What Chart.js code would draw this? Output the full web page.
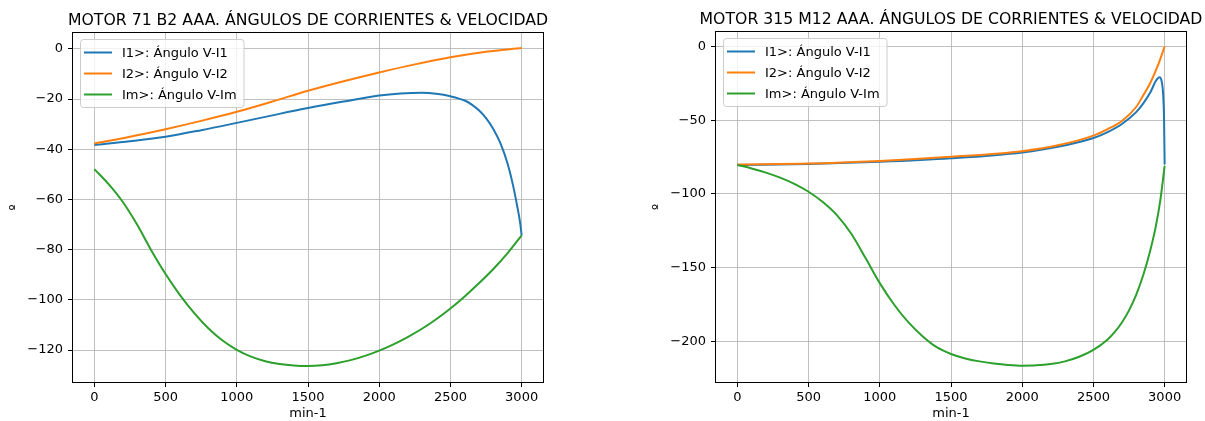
<!DOCTYPE html>
<html>
<head>
<meta charset="utf-8">
<script src="https://cdn.jsdelivr.net/npm/chart.js@4"></script>
<style>
  html, body { margin: 0; padding: 0; background: #fff; }
  #wrap { position: relative; width: 1205px; height: 421px; }
  .panel { position: absolute; top: 0; height: 421px; }
</style>
</head>
<body>
<div id="wrap">
  <div class="panel" style="left:0;width:600px"><canvas id="motor71" width="600" height="421"></canvas></div>
  <div class="panel" style="left:600px;width:605px"><canvas id="motor315" width="605" height="421"></canvas></div>
</div>
<script>
// labels
const seriesNames = ['I1>: Ángulo V-I1', 'I2>: Ángulo V-I2', 'Im>: Ángulo V-Im'];
const seriesColors = ['#1f77b4', '#ff7f0e', '#2ca02c'];
const speedTicks = [0, 500, 1000, 1500, 2000, 2500, 3000];
const m71AngleTicks = [0, -20, -40, -60, -80, -100, -120];
const m315AngleTicks = [0, -50, -100, -150, -200];

// MOTOR 71 B2 AAA
const m71I1Speed = [0, 250, 500, 750, 1000, 1250, 1500, 1750, 2000, 2150, 2300, 2400, 2500, 2600, 2650, 2700, 2750, 2800, 2850, 2900, 2940, 2970, 2990, 3000];
const m71I1Angle = [-38.3, -36.8, -35, -32.4, -29.5, -26.5, -23.6, -21, -18.6, -17.8, -17.5, -17.9, -18.9, -20.6, -22.2, -24.5, -27.6, -31.8, -37.5, -45.5, -54.5, -63, -69.5, -74.3];
const m71I2Speed = [0, 250, 500, 750, 1000, 1250, 1500, 1750, 2000, 2250, 2500, 2750, 3000];
const m71I2Angle = [-37.7, -35, -32, -28.7, -25.1, -21, -16.7, -12.9, -9.4, -6.2, -3.4, -1.2, 0.3];
const m71ImSpeed = [0, 100, 200, 300, 400, 500, 600, 700, 800, 900, 1000, 1100, 1200, 1300, 1400, 1500,
  1600, 1700, 1800, 1900, 2000, 2100, 2200, 2300, 2400, 2500, 2600, 2700, 2800, 2900, 3000];
const m71ImAngle = [-47.9, -53.9, -61, -70, -80.3, -89.7, -98, -105.2, -111.3, -116.2, -119.9, -122.6, -124.4, -125.5, -126.1, -126.3,
  -126, -125.2, -124, -122.3, -120.2, -117.7, -114.8, -111.5, -107.7, -103.4, -98.6, -93.4, -87.8, -81.5, -74.3];

// MOTOR 315 M12 AAA
const m315I1Speed = [0, 500, 1000, 1500, 2000, 2250, 2500, 2600, 2700, 2800, 2850, 2900, 2940, 2965, 2980, 2990, 2996, 3000];
const m315I1Angle = [-80.3, -79.7, -78.2, -75.8, -71.8, -68, -62, -58, -52.5, -44.5, -38.5, -31, -23, -20.8, -24, -33, -50, -80];
const m315I2Speed = [0, 500, 1000, 1500, 2000, 2250, 2500, 2600, 2700, 2800, 2850, 2900, 2950, 3000];
const m315I2Angle = [-80, -79.4, -77.6, -74.8, -71, -67, -60.4, -56, -50.5, -41, -33, -24.5, -13.5, 0];
const m315ImSpeed = [0, 100, 200, 300, 400, 500, 600, 700, 800, 900, 1000, 1100, 1200, 1300, 1400, 1500,
  1600, 1700, 1800, 1900, 2000, 2100, 2200, 2300, 2400, 2500, 2600, 2650, 2700, 2750, 2800, 2850, 2900, 2940, 2970, 3000];
const m315ImAngle = [-80.3, -82.7, -85.5, -88.9, -93.1, -98.5, -105.5, -114.5, -127, -143.5, -160.5, -175, -187, -196.5, -204, -208.6,
  -211.6, -213.6, -215, -216, -216.5, -216.3, -215.4, -213.6, -210.5, -205.8, -198.7, -193.6, -187.2, -179, -168.5, -155, -138, -121, -104, -81];

Chart.defaults.font.family = '"DejaVu Sans", sans-serif';
Chart.defaults.font.size = 13;
Chart.defaults.color = '#000';

const toPoints = (xs, ys) => xs.map((x, i) => ({ x: x, y: ys[i] }));
const minusSign = v => (v < 0 ? '\u2212' + Math.abs(v) : String(v));

// frame, title and legend drawn like matplotlib
const mplDecor = {
    id: 'mplDecor',
    afterDraw(chart, args, opts) {
        const { ctx, chartArea: a } = chart;
        ctx.save();
        ctx.strokeStyle = '#000';
        ctx.lineWidth = 1;
        ctx.strokeRect(Math.round(a.left) - 0.5, Math.round(a.top) - 0.5, Math.round(a.right - a.left) + 1, Math.round(a.bottom - a.top) + 1);

        ctx.fillStyle = '#000';
        ctx.font = '15.7px "DejaVu Sans"';
        ctx.textAlign = 'center';
        ctx.textBaseline = 'alphabetic';
        ctx.fillText(opts.title, (a.left + a.right) / 2, a.top - 8);

        ctx.font = '13px "DejaVu Sans"';
        const textW = Math.max(...seriesNames.map(t => ctx.measureText(t).width));
        const bx = Math.round(a.left) + 7, by = Math.round(a.top) + 6;
        const bw = 41 + textW + 8, bh = 68;
        ctx.beginPath();
        ctx.roundRect(bx + 0.5, by + 0.5, bw, bh, 3);
        ctx.fillStyle = 'rgba(255,255,255,0.8)';
        ctx.fill();
        ctx.strokeStyle = '#cccccc';
        ctx.stroke();
        seriesNames.forEach((t, i) => {
            const y = by + 13.5 + i * 21;
            ctx.strokeStyle = seriesColors[i];
            ctx.lineWidth = 2;
            ctx.beginPath();
            ctx.moveTo(bx + 4, y);
            ctx.lineTo(bx + 32, y);
            ctx.stroke();
            ctx.fillStyle = '#000';
            ctx.textAlign = 'left';
            ctx.textBaseline = 'middle';
            ctx.fillText(t, bx + 42, y + 1);
        });
        ctx.restore();
    }
};

function buildChart(canvasId, cfg) {
    const ctx = document.getElementById(canvasId).getContext('2d');
    return new Chart(ctx, {
        type: 'line',
        data: {
            datasets: cfg.series.map((s, i) => ({
                label: seriesNames[i],
                data: toPoints(s[0], s[1]),
                borderColor: seriesColors[i],
                backgroundColor: seriesColors[i],
                borderWidth: 2,
                pointRadius: 0,
                cubicInterpolationMode: 'monotone',
                order: 3 - i // green on top, like matplotlib
            }))
        },
        plugins: [mplDecor],
        options: {
            responsive: false,
            devicePixelRatio: 1,
            animation: false,
            layout: { padding: cfg.padding },
            scales: {
                x: {
                    type: 'linear',
                    min: -150,
                    max: 3150,
                    afterBuildTicks: ax => { ax.ticks = speedTicks.map(v => ({ value: v })); },
                    afterFit: ax => { ax.height = 39; },
                    grid: { color: '#b0b0b0', lineWidth: 0.8, tickLength: 5, tickColor: '#000', tickWidth: 1 },
                    border: { display: false },
                    ticks: { padding: 3, maxRotation: 0, autoSkip: false, callback: v => String(v) },
                    title: { display: true, text: 'min-1', padding: { top: 0, bottom: 0 } }
                },
                y: {
                    type: 'linear',
                    min: cfg.yMin,
                    max: cfg.yMax,
                    afterBuildTicks: ax => { ax.ticks = cfg.yTicks.map(v => ({ value: v })); },
                    afterFit: ax => { ax.width = 73; },
                    grid: { color: '#b0b0b0', lineWidth: 0.8, tickLength: 5, tickColor: '#000', tickWidth: 1 },
                    border: { display: false },
                    ticks: { padding: 5, autoSkip: false, callback: minusSign },
                    title: { display: true, text: 'º', padding: { top: 7, bottom: 0 } }
                }
            },
            plugins: {
                legend: { display: false },
                tooltip: { enabled: false },
                mplDecor: { title: cfg.title }
            }
        }
    });
}

buildChart('motor71', {
    title: 'MOTOR 71 B2 AAA. ÁNGULOS DE CORRIENTES & VELOCIDAD',
    series: [[m71I1Speed, m71I1Angle], [m71I2Speed, m71I2Angle], [m71ImSpeed, m71ImAngle]],
    yMin: -132.7,
    yMax: 6.3,
    yTicks: m71AngleTicks,
    padding: { left: 0, right: 57, top: 33, bottom: 0 }
});

buildChart('motor315', {
    title: 'MOTOR 315 M12 AAA. ÁNGULOS DE CORRIENTES & VELOCIDAD',
    series: [[m315I1Speed, m315I1Angle], [m315I2Speed, m315I2Angle], [m315ImSpeed, m315ImAngle]],
    yMin: -227.6,
    yMax: 9.9,
    yTicks: m315AngleTicks,
    padding: { left: 43, right: 19, top: 32, bottom: 0 }
});
</script>
</body>
</html>
